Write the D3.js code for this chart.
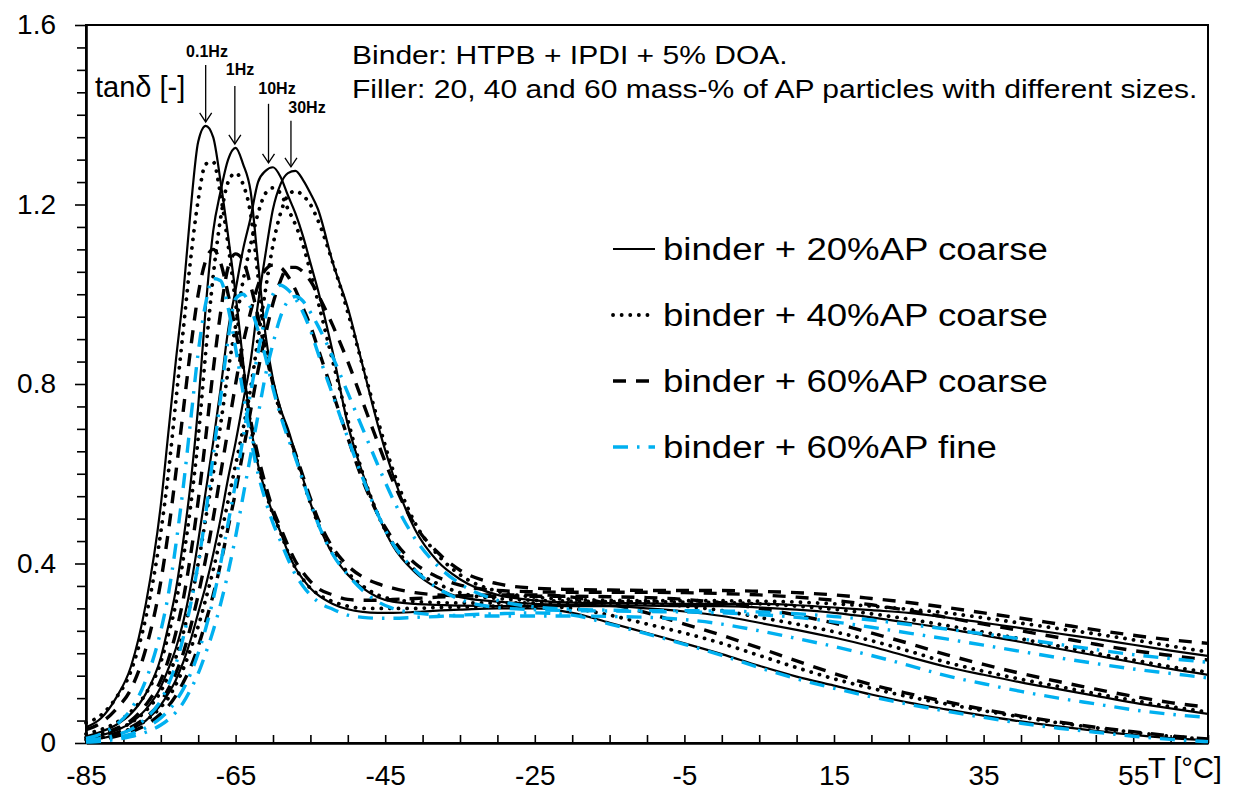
<!DOCTYPE html>
<html>
<head>
<meta charset="utf-8">
<script src="https://d3js.org/d3.v7.min.js"></script>
<style>
  body { margin:0; background:#fff; }
  text { font-family: Arial, "Liberation Sans", sans-serif; fill:#000; }
</style>
</head>
<body>
<script>
// temperature grid, degC
var temps = [-85,-83,-81,-79,-77,-75,
  -74,-73,-72,-71,-70,-69,-68,-67,-66,-65,-64,-63,-62,-61,-60,-59,-58,-57,-56,-55,-54,
  -52,-50,-48,-46,-44,
  -41,-38,-35,
  -30,-25,-20,-15,-10,-5,0,5,10,15,20,25,30,35,40,45,50,55,60,65];

// tan delta, one array per mixture and frequency
// binder + 20%AP coarse
var c20_01 = [.035,.055,.10,.17,.31,.53,
  .69,.85,1.00,1.19,1.34,1.375,1.35,1.25,1.13,1.00,.85,.71,.62,.56,.51,.47,.425,.39,.365,.345,.33,
  .31,.298,.292,.29,.29, .292,.295,.297,
  .30,.30,.29,.268,.245,.222,.198,.172,.148,.128,.108,.09,.075,.061,.048,.037,.027,.018,.011,.006];
var c20_1 = [.015,.025,.04,.065,.11,.19,
  .26,.34,.45,.58,.75,.97,1.14,1.23,1.30,1.326,1.29,1.23,1.07,.91,.81,.745,.70,.645,.59,.535,.49,
  .42,.375,.345,.325,.315, .31,.308,.306,
  .305,.305,.305,.305,.30,.293,.283,.268,.252,.235,.215,.192,.17,.152,.135,.12,.105,.09,.077,.065];
var c20_10 = [.01,.017,.028,.045,.075,.125,
  .165,.21,.27,.35,.45,.56,.67,.79,.92,1.01,1.10,1.17,1.25,1.275,1.283,1.262,1.22,1.18,1.13,1.07,1.01,
  .87,.71,.60,.51,.44, .38,.345,.325,
  .315,.31,.308,.307,.306,.305,.305,.302,.297,.29,.28,.268,.255,.24,.225,.21,.195,.18,.165,.152];
var c20_30 = [.005,.01,.018,.03,.05,.085,
  .11,.14,.18,.23,.29,.35,.42,.50,.59,.67,.76,.85,.98,1.09,1.19,1.245,1.27,1.275,1.255,1.225,1.19,
  1.07,.97,.84,.71,.60, .475,.405,.365,
  .33,.318,.313,.312,.311,.31,.31,.31,.307,.302,.296,.29,.28,.268,.256,.244,.232,.219,.206,.194];

// binder + 40%AP coarse
var c40_01 = [.045,.062,.10,.16,.28,.47,
  .60,.76,.92,1.08,1.21,1.29,1.295,1.22,1.11,.98,.84,.71,.62,.56,.51,.47,.425,.39,.365,.345,.332,
  .315,.305,.30,.30,.30, .30,.302,.303,
  .305,.305,.30,.285,.265,.245,.222,.195,.168,.143,.122,.103,.087,.072,.058,.045,.034,.024,.015,.008];
var c40_1 = [.02,.03,.045,.07,.11,.18,
  .24,.31,.41,.53,.68,.87,1.04,1.17,1.25,1.27,1.245,1.18,1.04,.89,.80,.735,.69,.64,.585,.535,.49,
  .425,.38,.35,.33,.32, .315,.313,.312,
  .312,.312,.312,.312,.31,.305,.295,.28,.265,.248,.228,.205,.18,.16,.142,.126,.11,.095,.081,.069];
var c40_10 = [.012,.02,.03,.045,.072,.115,
  .15,.19,.245,.315,.40,.50,.60,.71,.83,.93,1.03,1.11,1.18,1.225,1.237,1.225,1.19,1.155,1.11,1.05,.985,
  .85,.72,.60,.51,.445, .385,.355,.335,
  .322,.318,.316,.315,.315,.314,.313,.31,.305,.298,.288,.276,.262,.247,.232,.216,.20,.185,.17,.158];
var c40_30 = [.007,.012,.02,.032,.05,.08,
  .10,.13,.165,.21,.26,.32,.385,.46,.54,.62,.70,.79,.90,1.01,1.11,1.18,1.22,1.23,1.22,1.20,1.165,
  1.07,.96,.84,.72,.61, .49,.42,.375,
  .338,.325,.32,.318,.317,.317,.317,.316,.314,.31,.305,.298,.29,.279,.267,.255,.243,.23,.216,.203];

// binder + 60%AP coarse
var c60_01 = [.03,.045,.075,.12,.21,.36,
  .47,.60,.74,.88,1.00,1.075,1.10,1.07,1.00,.92,.82,.72,.64,.575,.52,.48,.44,.405,.38,.36,.345,
  .33,.32,.318,.318,.32, .322,.325,.328,
  .33,.33,.325,.31,.29,.265,.24,.212,.183,.155,.13,.11,.092,.075,.06,.047,.035,.025,.016,.009];
var c60_1 = [.012,.02,.032,.05,.085,.14,
  .185,.245,.32,.42,.54,.68,.83,.96,1.06,1.09,1.075,1.02,.95,.87,.80,.74,.69,.645,.595,.545,.50,
  .435,.395,.37,.355,.345, .335,.33,.328,
  .327,.327,.327,.326,.324,.32,.312,.30,.285,.267,.245,.222,.197,.175,.155,.137,.12,.104,.09,.08];
var c60_10 = [.008,.013,.022,.035,.057,.092,
  .12,.155,.20,.26,.33,.41,.50,.60,.70,.80,.89,.96,1.02,1.055,1.065,1.06,1.04,1.01,.97,.93,.88,
  .78,.68,.585,.51,.455, .40,.37,.352,
  .34,.337,.336,.336,.336,.335,.333,.33,.325,.318,.308,.295,.28,.265,.25,.235,.22,.206,.195,.185];
var c60_30 = [.005,.009,.015,.025,.04,.065,
  .082,.105,.135,.17,.215,.27,.33,.40,.48,.56,.65,.74,.83,.91,.98,1.03,1.06,1.06,1.05,1.03,1.00,
  .93,.85,.76,.67,.585, .485,.425,.385,
  .355,.345,.342,.341,.34,.34,.34,.338,.335,.33,.322,.313,.302,.29,.278,.265,.252,.24,.23,.222];

// binder + 60%AP fine
var f60_01 = [.01,.02,.04,.075,.14,.25,
  .33,.44,.57,.72,.87,.98,1.035,1.03,.97,.88,.78,.68,.60,.54,.49,.45,.41,.375,.35,.33,.315,
  .298,.285,.28,.278,.278, .28,.282,.285,
  .288,.29,.285,.265,.243,.22,.195,.168,.143,.122,.103,.086,.071,.057,.044,.033,.024,.015,.008,.003];
var f60_1 = [.005,.01,.018,.03,.055,.095,
  .13,.175,.235,.31,.40,.51,.64,.77,.90,.99,1.00,.97,.92,.86,.79,.73,.68,.635,.585,.535,.49,
  .42,.375,.34,.315,.30, .29,.285,.283,
  .283,.283,.283,.282,.28,.275,.265,.25,.233,.215,.195,.173,.15,.132,.115,.10,.087,.074,.064,.057];
var f60_10 = [.004,.007,.012,.02,.034,.056,
  .072,.093,.12,.155,.20,.255,.32,.40,.49,.58,.68,.78,.87,.95,1.00,1.02,1.01,.99,.96,.92,.87,
  .775,.68,.59,.51,.445, .385,.345,.32,
  .302,.297,.295,.294,.293,.292,.29,.286,.28,.27,.258,.245,.232,.218,.204,.19,.177,.165,.155,.145];
var f60_30 = [.002,.004,.008,.014,.024,.04,
  .052,.068,.09,.12,.155,.20,.25,.31,.38,.46,.55,.64,.73,.82,.89,.95,.985,.995,.985,.96,.93,
  .86,.78,.70,.62,.545, .455,.395,.355,
  .318,.303,.298,.296,.295,.295,.294,.292,.288,.282,.274,.264,.254,.243,.232,.22,.208,.197,.188,.18];

var seriesNames = ["binder + 20%AP coarse", "binder + 40%AP coarse", "binder + 60%AP coarse", "binder + 60%AP fine"];
var freqLabels = ["0.1Hz", "1Hz", "10Hz", "30Hz"];
// peaks of the 20% curves the arrows point at
var peakT = [-69.0, -65.1, -60.6, -57.6];
var peakV = [1.375, 1.326, 1.284, 1.275];

var yTickLabels = [0, 0.4, 0.8, 1.2, 1.6];
var xTickLabels = [-85, -65, -45, -25, -5, 15, 35, 55];

var noteLines = ["Binder: HTPB + IPDI + 5% DOA.",
                 "Filler: 20, 40 and 60 mass-% of AP particles with different sizes."];

// ---------------------------------------------------------------
var W = 1239, H = 791;
var svg = d3.select("body").append("svg").attr("width", W).attr("height", H);

var x = d3.scaleLinear().domain([-85, 65]).range([86, 1208]);
var y = d3.scaleLinear().domain([0, 1.6]).range([743, 25]);

var styles = [
  {stroke: "#000", width: 2.2, dash: null, cap: "butt"},
  {stroke: "#000", width: 3.8, dash: "0.1,8.5", cap: "round"},
  {stroke: "#000", width: 3.4, dash: "13,10", cap: "butt"},
  {stroke: "#00b0f0", width: 3.4, dash: "15,9,2.5,9", cap: "butt"}
];

var curves = [
  [c20_01, c20_1, c20_10, c20_30],
  [c40_01, c40_1, c40_10, c40_30],
  [c60_01, c60_1, c60_10, c60_30],
  [f60_01, f60_1, f60_10, f60_30]
];

// axes
var yTicks = d3.range(0, 33).map(function(i){ return i * 0.05; });
var yAxis = d3.axisLeft(y).tickValues(yTicks).tickSizeInner(9).tickSizeOuter(0).tickPadding(21)
  .tickFormat(function(d){
    var hit = yTickLabels.filter(function(v){ return Math.abs(v - d) < 1e-6; });
    return hit.length ? d3.format("")(+hit[0].toFixed(1)) : "";
  });
var xTicks = d3.range(-85, 66, 5);
var xAxis = d3.axisBottom(x).tickValues(xTicks).tickSizeInner(-8).tickSizeOuter(0).tickPadding(22)
  .tickFormat(function(d){ return xTickLabels.indexOf(d) >= 0 ? d : ""; });

var gy = svg.append("g").attr("transform", "translate(" + x.range()[0] + ",0)").call(yAxis);
var gx = svg.append("g").attr("transform", "translate(0," + y.range()[0] + ")").call(xAxis);
[gx, gy].forEach(function(g){
  g.attr("font-family", null).attr("font-size", null);
  g.selectAll("text").style("font-size", "28px").attr("fill", "#000");
  g.selectAll("line").attr("stroke", "#000").attr("stroke-width", 1.6);
  g.select(".domain").attr("stroke", "#000").attr("stroke-width", 2.6);
});
gy.selectAll(".tick line").attr("x2", function(d){
  return yTickLabels.some(function(v){ return Math.abs(v - d) < 1e-6; }) ? -11 : -9;
});

// frame
svg.append("rect")
  .attr("x", x.range()[0]).attr("y", y.range()[1])
  .attr("width", x.range()[1] - x.range()[0]).attr("height", y.range()[0] - y.range()[1])
  .attr("fill", "none").attr("stroke", "#000").attr("stroke-width", 2);

// curves
var line = d3.line()
  .x(function(d, i){ return x(temps[i]); })
  .y(function(d){ return y(d); })
  .curve(d3.curveMonotoneX);

var plot = svg.append("g");
curves.forEach(function(group, si){
  var st = styles[si];
  plot.append("g").selectAll("path").data(group).enter().append("path")
    .attr("d", line)
    .attr("fill", "none")
    .attr("stroke", st.stroke)
    .attr("stroke-width", st.width)
    .attr("stroke-dasharray", st.dash)
    .attr("stroke-linecap", st.cap)
    .attr("stroke-linejoin", "round");
});

// axis titles
svg.append("text").attr("x", 95).attr("y", 97).style("font-size", "29px").text("tan\u03B4 [-]");
svg.append("text").attr("x", 1148).attr("y", 778).style("font-size", "29px").text("T [\u00B0C]");

// frequency arrows
var labelPos = [[207, 57], [240, 75], [277, 94], [307, 113]];
var arrowLen = [57, 58, 59, 46];
var ann = svg.append("g");
freqLabels.forEach(function(lab, i){
  var ax = x(peakT[i]), tip = y(peakV[i]) - 4, top = tip - arrowLen[i];
  ann.append("line").attr("x1", ax).attr("x2", ax).attr("y1", top).attr("y2", tip)
    .attr("stroke", "#000").attr("stroke-width", 1.3);
  ann.append("path").attr("d", "M" + (ax - 6) + "," + (tip - 9) + "L" + ax + "," + tip + "L" + (ax + 6) + "," + (tip - 9))
    .attr("fill", "none").attr("stroke", "#000").attr("stroke-width", 1.3);
  ann.append("text").attr("x", labelPos[i][0]).attr("y", labelPos[i][1])
    .attr("text-anchor", "middle").style("font-size", "16px").style("font-weight", "bold").text(lab);
});

// note text (stretched horizontally like the original)
var note = svg.append("g");
var noteText = note.selectAll("text").data(noteLines).enter().append("text")
  .attr("x", 0).attr("y", function(d, i){ return i * 34; })
  .style("font-size", "25px").text(function(d){ return d; });
var nw = noteText.nodes()[1].getComputedTextLength();
note.attr("transform", "translate(352,64) scale(" + (846 / nw) + ",1)");

// legend
var legend = svg.append("g");
var rows = legend.selectAll("g").data(seriesNames).enter().append("g")
  .attr("transform", function(d, i){ return "translate(0," + (i * 66) + ")"; });
rows.append("line").attr("x1", 0).attr("x2", 42).attr("y1", 0).attr("y2", 0)
  .each(function(d, i){
    var st = styles[i];
    d3.select(this).attr("stroke", st.stroke).attr("stroke-width", st.width)
      .attr("stroke-dasharray", st.dash).attr("stroke-linecap", st.cap);
  });
var legText = rows.append("text").attr("x", 50).attr("y", 11).style("font-size", "31px")
  .text(function(d){ return d; });
var lw = legText.nodes()[0].getComputedTextLength();
legText.attr("transform", "scale(" + (385 / lw) + ",1)").attr("x", 50 * lw / 385);
legend.attr("transform", "translate(613,249)");
</script>
</body>
</html>
